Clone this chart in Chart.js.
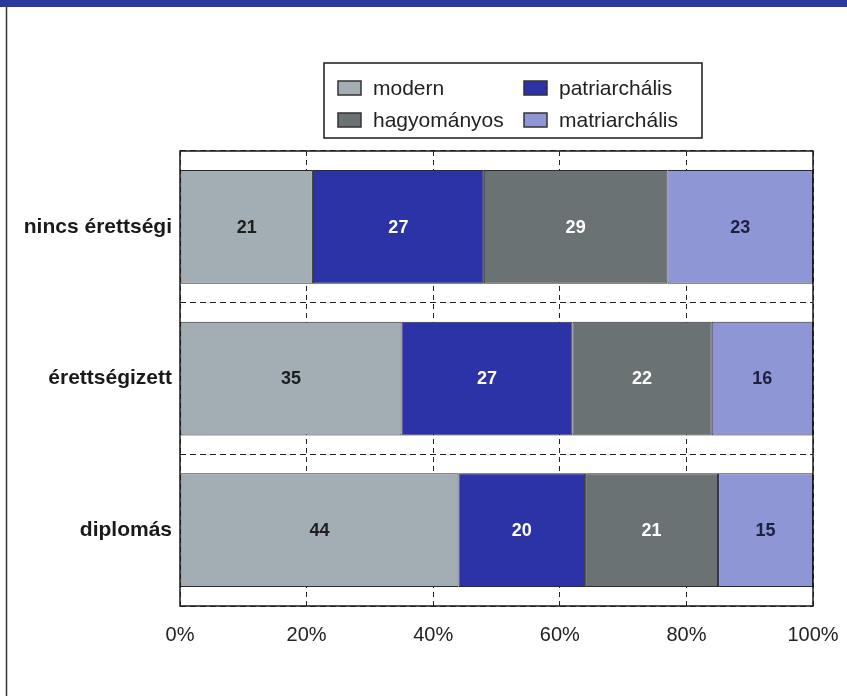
<!DOCTYPE html>
<html>
<head>
<meta charset="utf-8">
<script src="https://cdn.jsdelivr.net/npm/chart.js@4"></script>
<style>
  html, body { margin: 0; padding: 0; background: #fff; }
  #wrap { width: 847px; height: 696px; }
</style>
</head>
<body>
<div id="wrap"><canvas id="familyChart" width="847" height="696"></canvas></div>
<script>
// Családmodellek iskolai végzettség szerint (%)
const categories = ['nincs érettségi', 'érettségizett', 'diplomás'];
const modern = [21, 35, 44];
const patriarchalis = [27, 27, 20];
const hagyomanyos = [29, 22, 21];
const matriarchalis = [23, 16, 15];
const xTicks = [0, 20, 40, 60, 80, 100];

const FONT = '"Liberation Sans", Arial, Helvetica, sans-serif';

// page frame: blue strip on top, thin rule on the left
const pageFrame = {
    id: 'pageFrame',
    beforeDraw(chart) {
        const ctx = chart.ctx;
        ctx.save();
        ctx.fillStyle = '#ffffff';
        ctx.fillRect(0, 0, chart.width, chart.height);
        ctx.fillStyle = '#2a389a';
        ctx.fillRect(0, 0, chart.width, 7);
        ctx.strokeStyle = '#333';
        ctx.lineWidth = 1.5;
        ctx.beginPath();
        ctx.moveTo(6.5, 7);
        ctx.lineTo(6.5, chart.height);
        ctx.stroke();
        ctx.restore();
    }
};

// box around the plot area
const plotFrame = {
    id: 'plotFrame',
    afterDatasetsDraw(chart) {
        const a = chart.chartArea;
        const ctx = chart.ctx;
        ctx.save();
        ctx.strokeStyle = '#1a1a1a';
        ctx.lineWidth = 1.5;
        ctx.strokeRect(a.left, a.top, a.right - a.left, a.bottom - a.top);
        ctx.restore();
    }
};

// numbers in the middle of each segment
const valueLabels = {
    id: 'valueLabels',
    afterDatasetsDraw(chart) {
        const ctx = chart.ctx;
        ctx.save();
        ctx.font = 'bold 18px ' + FONT;
        ctx.textAlign = 'center';
        ctx.textBaseline = 'middle';
        chart.data.datasets.forEach((ds, i) => {
            const meta = chart.getDatasetMeta(i);
            meta.data.forEach((bar, j) => {
                const p = bar.getCenterPoint();
                ctx.fillStyle = ds.labelColor;
                ctx.fillText(ds.data[j], p.x, p.y + 1);
            });
        });
        ctx.restore();
    }
};

// two-column legend in a box above the plot
const boxLegend = {
    id: 'boxLegend',
    afterDraw(chart) {
        const ctx = chart.ctx;
        const box = { x: 324, y: 63, w: 378, h: 75 };
        const cols = [338, 524];
        const rows = [88, 120];
        ctx.save();
        ctx.strokeStyle = '#1a1a1a';
        ctx.lineWidth = 1.5;
        ctx.strokeRect(box.x, box.y, box.w, box.h);
        ctx.font = '21px ' + FONT;
        ctx.textBaseline = 'middle';
        ctx.textAlign = 'left';
        chart.data.datasets.forEach((ds, i) => {
            const x = cols[i % 2];
            const y = rows[Math.floor(i / 2)];
            ctx.fillStyle = ds.backgroundColor;
            ctx.fillRect(x, y - 7, 23, 14);
            ctx.strokeStyle = '#333';
            ctx.lineWidth = 1.5;
            ctx.strokeRect(x, y - 7, 23, 14);
            ctx.fillStyle = '#222';
            ctx.fillText(ds.label, x + 35, y + 1);
        });
        ctx.restore();
    }
};

const barStyle = {
    borderColor: '#2b2b2b',
    borderWidth: 1,
    borderSkipped: false,
    barPercentage: 0.75,
    categoryPercentage: 1
};

new Chart(document.getElementById('familyChart'), {
    type: 'bar',
    data: {
        labels: categories,
        datasets: [
            Object.assign({ label: 'modern', data: modern, backgroundColor: '#a3adb4', labelColor: '#1e1e1e' }, barStyle),
            Object.assign({ label: 'patriarchális', data: patriarchalis, backgroundColor: '#2b33a6', labelColor: '#ffffff' }, barStyle),
            Object.assign({ label: 'hagyományos', data: hagyomanyos, backgroundColor: '#6b7274', labelColor: '#ffffff' }, barStyle),
            Object.assign({ label: 'matriarchális', data: matriarchalis, backgroundColor: '#8f96d6', labelColor: '#1e2040' }, barStyle)
        ]
    },
    options: {
        indexAxis: 'y',
        responsive: false,
        animation: false,
        layout: { padding: { top: 151, right: 34, left: 0, bottom: 0 } },
        plugins: {
            legend: { display: false },
            tooltip: { enabled: false }
        },
        scales: {
            x: {
                stacked: true,
                min: 0,
                max: 100,
                afterBuildTicks(scale) {
                    scale.ticks = xTicks.map(v => ({ value: v }));
                },
                afterFit(scale) {
                    scale.height = 90;
                    scale.paddingLeft = 0;
                    scale.paddingRight = 0;
                },
                grid: { color: '#222', lineWidth: 1, drawTicks: false },
                border: { display: false, dash: [5, 4] },
                ticks: {
                    padding: 17,
                    color: '#222',
                    font: { family: FONT, size: 20 },
                    maxRotation: 0,
                    callback: v => v + '%'
                }
            },
            y: {
                stacked: true,
                afterFit(scale) { scale.width = 180; },
                grid: { color: '#222', lineWidth: 1, drawTicks: false, offset: true },
                border: { display: false, dash: [6, 4] },
                ticks: {
                    padding: 8,
                    color: '#1a1a1a',
                    font: { family: FONT, size: 21, weight: 'bold' }
                }
            }
        }
    },
    plugins: [pageFrame, plotFrame, valueLabels, boxLegend]
});
</script>
</body>
</html>
